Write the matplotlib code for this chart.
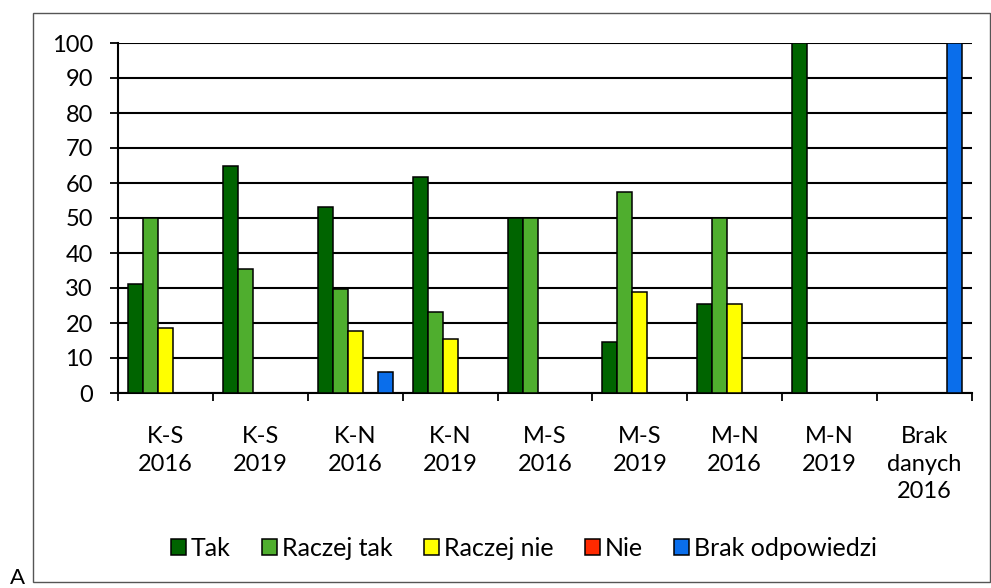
import matplotlib
matplotlib.use("Agg")
import matplotlib.pyplot as plt
import numpy as np
from matplotlib.patches import Rectangle

categories = ["K-S\n2016", "K-S\n2019", "K-N\n2016", "K-N\n2019", "M-S\n2016",
              "M-S\n2019", "M-N\n2016", "M-N\n2019", "Brak\ndanych\n2016"]
series_names = ["Tak", "Raczej tak", "Raczej nie", "Nie", "Brak odpowiedzi"]
tak = [31.1, 64.8, 53.1, 61.7, 50.0, 14.6, 25.4, 100.0, 0]
raczej_tak = [50.0, 35.4, 29.7, 23.1, 50.0, 57.4, 50.0, 0, 0]
raczej_nie = [18.6, 0, 17.7, 15.4, 0, 28.9, 25.4, 0, 0]
nie = [0, 0, 0, 0, 0, 0, 0, 0, 0]
brak = [0, 0, 6.0, 0, 0, 0, 0, 0, 100.0]
yticks = list(range(0, 101, 10))

colors = ["#006400", "#4FAE2E", "#FFFF00", "#FF2A00", "#0A6EEB"]
data = [tak, raczej_tak, raczej_nie, nie, brak]

plt.rcParams['font.family'] = ['Lato', 'DejaVu Sans']

fig = plt.figure(figsize=(9.91, 5.88), dpi=100)
ax = fig.add_axes([118/991, 1-393/588, (972-118)/991, (393-43)/588])

x = np.arange(len(categories))
w = 0.158
for i, (vals, c, name) in enumerate(zip(data, colors, series_names)):
    ax.bar(x + (i - 2) * w, vals, width=w, color=c, edgecolor="black",
           linewidth=1.1, label=name, zorder=3)

ax.set_xlim(-0.5, len(categories) - 0.5)
ax.set_ylim(0, 100)
ax.set_yticks(yticks)
ax.set_yticklabels([str(t) for t in yticks], fontsize=17)
ax.yaxis.grid(True, color="black", linewidth=1.5, zorder=0)
ax.set_axisbelow(True)
ax.tick_params(axis='y', length=6, width=1.3, pad=12)

ax.set_xticks(np.arange(-0.5, len(categories), 1.0))
ax.set_xticklabels([])
ax.set_xticks(x, minor=True)
ax.set_xticklabels(categories, minor=True, fontsize=17, linespacing=1.37, va='top')
ax.tick_params(axis='x', which='major', length=6, width=1.3, direction='out')
ax.tick_params(axis='x', which='minor', length=0, pad=24)

for s in ["top", "right"]:
    ax.spines[s].set_visible(False)
ax.spines["left"].set_linewidth(1.5)
ax.spines["bottom"].set_linewidth(1.5)

leg = fig.legend(loc="center", bbox_to_anchor=(524/991, 1-548/588), ncol=5,
                 frameon=False, fontsize=18, handlelength=0.6, handleheight=0.6,
                 handletextpad=0.2, columnspacing=1.25)

fig.patches.append(Rectangle((33/991, 1-582/588), (990-33)/991, (582-13)/588,
                             transform=fig.transFigure, fill=False,
                             edgecolor="#555555", linewidth=1.0))
fig.text(10/991, 1-578/588, "A", fontsize=16, va="center", ha="left")

fig.savefig("out.png", dpi=100)
